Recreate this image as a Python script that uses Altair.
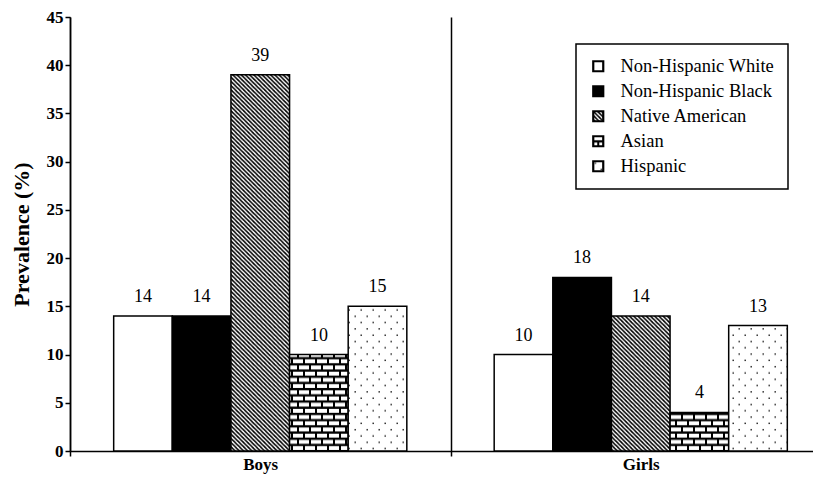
import altair as alt
import pandas as pd
import altair.utils.html as _h

# ---- data ----
sexes = ["Boys", "Girls"]
groups = ["Non-Hispanic White", "Non-Hispanic Black", "Native American", "Asian", "Hispanic"]
boys = [14, 14, 39, 10, 15]
girls = [10, 18, 14, 4, 13]
fills = ["white", "black", "url(#hatch)", "url(#brick)", "url(#dots)"]

rows = []
for s, vals in zip(sexes, [boys, girls]):
    for g, v in zip(groups, vals):
        rows.append({"sex": s, "group": g, "value": v})
df = pd.DataFrame(rows)

# ---- SVG pattern definitions placed in the page ----
DEFS = """<svg width="0" height="0" style="position:absolute;width:0;height:0;overflow:hidden"><defs>
<pattern id="hatch" patternUnits="userSpaceOnUse" width="4.2" height="4.2">
<rect width="4.2" height="4.2" fill="white"/>
<path d="M-1,-1 L5.2,5.2 M-1,3.2 L1,5.2 M3.2,-1 L5.2,1" stroke="black" stroke-width="1.6"/>
</pattern>
<pattern id="brick" patternUnits="userSpaceOnUse" width="12" height="12.4">
<rect width="12" height="12.4" fill="black"/>
<rect x="1" y="1.3" width="10" height="3.9" fill="white"/>
<rect x="-5" y="7.5" width="10" height="3.9" fill="white"/>
<rect x="7" y="7.5" width="10" height="3.9" fill="white"/>
</pattern>
<pattern id="dots" patternUnits="userSpaceOnUse" width="12" height="12.6">
<rect width="12" height="12.6" fill="white"/>
<rect x="2.5" y="2.5" width="1.4" height="1.4" fill="#111"/>
<rect x="8.5" y="8.8" width="1.4" height="1.4" fill="#111"/>
</pattern>
</defs></svg>"""

_orig = _h.TEMPLATES["standard"]


class _Tpl:
    def render(self, **kw):
        html = _orig.render(**kw)
        if "<body>" in html:
            return html.replace("<body>", "<body>" + DEFS, 1)
        return DEFS + html


_h.TEMPLATES["standard"] = _Tpl()

FONT = "Liberation Serif, Times New Roman, serif"

x_enc = alt.X(
    "sex:N",
    sort=sexes,
    scale=alt.Scale(range=[0, 761], paddingInner=0, paddingOuter=0),
    axis=alt.Axis(
        title=None,
        labelAngle=0,
        tickBand="extent",
        grid=True,
        gridColor="black",
        gridWidth=1.5,
        gridOpacity=1,
        domainColor="black",
        domainWidth=1.5,
        tickColor="black",
        tickWidth=1.5,
        tickSize=5,
        labelFont=FONT,
        labelFontSize=17,
        labelFontWeight="bold",
        labelColor="black",
        labelPadding=0,
    ),
)
xo_enc = alt.XOffset(
    "group:N",
    sort=groups,
    scale=alt.Scale(paddingInner=0, paddingOuter=0.745),
)
y_enc = alt.Y(
    "value:Q",
    scale=alt.Scale(domain=[0, 45]),
    axis=alt.Axis(
        values=list(range(0, 46, 5)),
        title="Prevalence (%)",
        titleFont=FONT,
        titleFontSize=22,
        titleFontWeight="bold",
        titleColor="black",
        titlePadding=13,
        labelFont=FONT,
        labelFontSize=17,
        labelFontWeight="bold",
        labelColor="black",
        labelPadding=2,
        grid=False,
        domainColor="black",
        domainWidth=1.5,
        tickColor="black",
        tickWidth=1.5,
        tickSize=5,
    ),
)

bars = alt.Chart(df).mark_bar(stroke="black", strokeWidth=1.5).encode(
    x=x_enc,
    xOffset=xo_enc,
    y=y_enc,
    fill=alt.Fill(
        "group:N",
        sort=groups,
        scale=alt.Scale(domain=groups, range=fills),
        legend=alt.Legend(
            title=None,
            orient="none",
            legendX=506,
            legendY=27,
            symbolType="square",
            symbolSize=100,
            symbolStrokeColor="black",
            symbolStrokeWidth=2.2,
            labelFont=FONT,
            labelFontSize=18.5,
            labelColor="black",
            labelOffset=13,
            labelLimit=300,
            rowPadding=5,
            padding=13,
            strokeColor="black",
            fillColor="white",
        ),
    ),
)

labels = alt.Chart(df).mark_text(
    baseline="bottom", dy=-10, font=FONT, fontSize=18, color="black"
).encode(
    x=alt.X("sex:N", sort=sexes),
    xOffset=alt.XOffset("group:N", sort=groups),
    y="value:Q",
    text="value:Q",
)

chart = (
    alt.layer(bars, labels)
    .properties(
        width=743,
        height=434,
        autosize=alt.AutoSizeParams(type="none"),
        padding={"left": 62, "top": 9, "right": 0, "bottom": 24},
    )
    .configure_view(stroke=None)
    .configure_legend(strokeWidth=1.5)
)

chart.save("out.html", embed_options={"renderer": "svg", "actions": False})
